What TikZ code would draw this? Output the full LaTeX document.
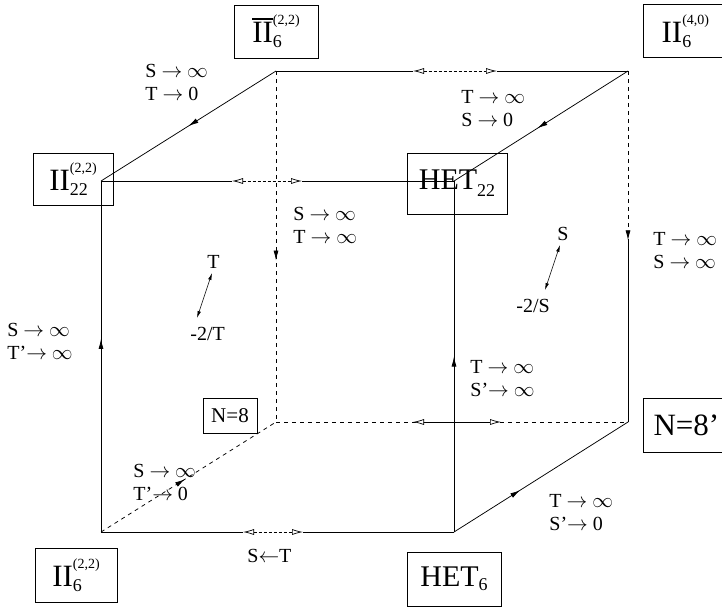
\documentclass[tikz,border=0pt]{standalone}
\usepackage{fontspec}
\setmainfont{Liberation Serif}
\usetikzlibrary{arrows.meta,decorations.markings}
\newcommand\supsubx[4]{% sup, sub, raise, lower
  \setbox0\hbox{\fontsize{14}{14}\selectfont #1}%
  \setbox2\hbox{\fontsize{18}{18}\selectfont #2}%
  \dimen0=\wd0 \ifdim\wd2>\dimen0 \dimen0=\wd2\fi
  \hbox to\dimen0{\rlap{\raisebox{#3}{\box0}}\raisebox{-#4}{\box2}\hss}}
\newcommand\subx[2]{\raisebox{-#2}{\fontsize{18}{18}\selectfont #1}}
\newcommand\barII{\rlap{\rule[23pt]{20.5pt}{1.3pt}}II}
\tikzset{
  every picture/.style={line width=0.75pt},
  lbl/.style={inner sep=0pt, anchor=base west, align=left, font=\fontsize{20}{23}\selectfont},
  bigbox/.style={draw, line width=0.7pt, inner sep=0pt, font=\fontsize{31}{31}\selectfont},
  midarr/.style={postaction={decorate}, decoration={markings, mark=at position #1 with {\arrow{Latex[length=10pt,width=5pt]}}}},
  dbl/.style={{Latex[open,length=11pt,width=6pt,fill=white]}-{Latex[open,length=11pt,width=6pt,fill=white]}, line width=0.7pt},
  blank/.style={draw=white, line width=2pt},
  dsh/.style={dashed, dash pattern=on 4pt off 4pt},
}
\begin{document}
\begin{tikzpicture}[x=1pt,y=-1pt]
\useasboundingbox (0,0) rectangle (722,606);
% cube corners
\coordinate (A) at (101,532);
\coordinate (B) at (454,532);
\coordinate (C) at (454,181);
\coordinate (D) at (101,181);
\coordinate (E) at (276,422);
\coordinate (F) at (628,422);
\coordinate (G) at (628,71);
\coordinate (H) at (276,71);
% double-arrow end points
\coordinate (dc1) at (232,181); \coordinate (dc2) at (302,181);
\coordinate (hg1) at (413,71);  \coordinate (hg2) at (497,71);
\coordinate (ab1) at (243,532); \coordinate (ab2) at (303,532);
\coordinate (ef1) at (413,422); \coordinate (ef2) at (501,422);
\coordinate (gf) at (628,242);
% boxes
\node[bigbox, minimum width=84pt, minimum height=53pt] (tl) at (276,31.5) {\barII\supsubx{(2,2)}{6}{18pt}{5pt}};
\node[bigbox, minimum width=84pt, minimum height=53pt, anchor=north west] (tr) at (643,4) {II\supsubx{(4,0)}{6}{18pt}{5pt}};
\node[bigbox, minimum width=80pt, minimum height=52pt] (ml) at (73,179) {II\supsubx{(2,2)}{22}{18pt}{5pt}};
\node[bigbox, minimum width=100pt, minimum height=61pt, font=\fontsize{30}{30}\selectfont] (het22) at (457,183.5) {HET\subx{22}{7pt}};
\node[draw, line width=0.7pt, inner sep=0pt, minimum width=54pt, minimum height=35pt, font=\fontsize{21}{21}\selectfont] (n8) at (230,415.5) {N=8};
\node[bigbox, minimum width=86pt, minimum height=54pt, anchor=north west, font=\fontsize{31}{31}\selectfont] (n8p) at (643,398) {N=8’};
\node[bigbox, minimum width=82pt, minimum height=54pt] (bl) at (76,575) {II\supsubx{(2,2)}{6}{18pt}{5pt}};
\node[bigbox, minimum width=94pt, minimum height=54pt, font=\fontsize{30}{30}\selectfont] (het6) at (454,579) {HET\subx{6}{4pt}};
% edges
\draw (D) -- (C);
\draw (H) -- (G);
\draw (A) -- (B);
\draw[dsh] (E) -- (F);
\draw[midarr=0.5] (H) -- (D);
\draw[midarr=0.52] (G) -- (C);
\draw[midarr=0.55] (A) -- (D);
\draw[midarr=0.5] (B) -- (C);
\draw[dsh, midarr=0.54] (H) -- (E);
\draw[dsh, midarr=0.99] (G) -- (gf);
\draw (gf) -- (F);
\draw[dsh, midarr=0.48] (A) -- (E);
\draw[midarr=0.38] (B) -- (F);
% double arrows
\draw[blank] (dc1) -- (dc2); \draw[dbl, dashed, dash pattern=on 3pt off 2pt] (dc1) -- (dc2);
\draw[blank] (hg1) -- (hg2); \draw[dbl, dashed, dash pattern=on 3pt off 2pt] (hg1) -- (hg2);
\draw[blank] (ab1) -- (ab2); \draw[dbl, dashed, dash pattern=on 3pt off 2pt] (ab1) -- (ab2);
\draw[dbl] (ef1) -- (ef2);
% labels (anchor = baseline of last line)
\node[lbl] (l1) at (145,100) {S $\rightarrow$ $\infty$\\T $\rightarrow$ 0};
\node[lbl] (l2) at (461,126) {T $\rightarrow$ $\infty$\\S $\rightarrow$ 0};
\node[lbl] (l3) at (293,243) {S $\rightarrow$ $\infty$\\T $\rightarrow$ $\infty$};
\node[lbl] (l4) at (653,268) {T $\rightarrow$ $\infty$\\S $\rightarrow$ $\infty$};
\node[lbl] (l5) at (7,359) {S $\rightarrow$ $\infty$\\T’$\rightarrow$ $\infty$};
\node[lbl] (l6) at (470,396) {T $\rightarrow$ $\infty$\\S’$\rightarrow$ $\infty$};
\node[lbl] (l7) at (133,500) {S $\rightarrow$ $\infty$\\T’$\rightarrow$ 0};
\node[lbl] (l8) at (549,530) {T $\rightarrow$ $\infty$\\S’$\rightarrow$ 0};
\node[lbl] (l9) at (247,562) {S$\leftarrow$T};
\node[lbl] (t1) at (207,268) {T};
\node[lbl] (t2) at (190,340) {-2/T};
\node[lbl] (s1) at (557,240) {S};
\node[lbl] (s2) at (516,312) {-2/S};
\coordinate (ta) at (212,273); \coordinate (tb) at (197,318);
\coordinate (sa) at (560,245); \coordinate (sb) at (545,290);
\draw[{Latex[length=7pt,width=3.5pt]}-{Latex[length=7pt,width=3.5pt]}, line width=0.6pt] (ta) -- (tb);
\draw[{Latex[length=7pt,width=3.5pt]}-{Latex[length=7pt,width=3.5pt]}, line width=0.6pt] (sa) -- (sb);
\end{tikzpicture}
\end{document}
